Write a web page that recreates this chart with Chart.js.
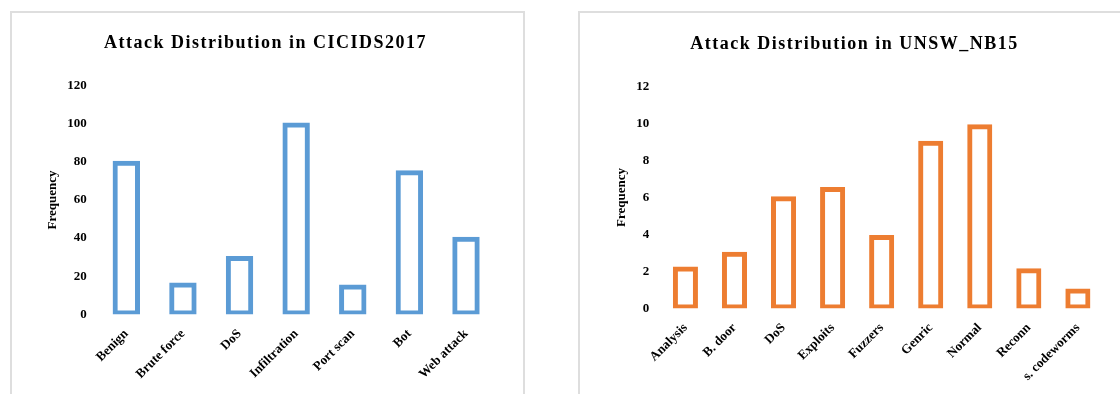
<!DOCTYPE html>
<html lang="en">
<head>
  <meta charset="UTF-8" />
  <title>Attack Distribution</title>
  <style>
    body {
      margin: 0;
      width: 1120px;
      height: 394px;
      overflow: hidden;
      background: #ffffff;
      position: relative;
    }
    .panel {
      position: absolute;
      top: 11px;
      border: 2px solid #dedede;
      background: #ffffff;
    }
    #leftPanel { left: 10px; width: 511px; height: 400px; }
    #rightPanel { left: 578px; width: 548px; height: 400px; }
    canvas { display: block; }
  </style>
</head>
<body>
  <div class="panel" id="leftPanel"><canvas id="cicChart" width="507" height="400"></canvas></div>
  <div class="panel" id="rightPanel"><canvas id="unswChart" width="549" height="400"></canvas></div>

  <script src="https://cdn.jsdelivr.net/npm/chart.js"></script>
  <script>
    // CICIDS2017
    const cicLabels = ["Benign", "Brute force", "DoS", "Infiltration", "Port scan", "Bot", "Web attack"];
    const cicValues = [80, 16, 30, 100, 15, 75, 40];
    const cicTicks = [0, 20, 40, 60, 80, 100, 120];

    // UNSW_NB15
    const unswLabels = ["Analysis", "B. door", "DoS", "Exploits", "Fuzzers", "Genric", "Normal", "Reconn", "s. codeworms"];
    const unswValues = [2.2, 3, 6, 6.5, 3.9, 9, 9.9, 2.1, 1];
    const unswTicks = [0, 2, 4, 6, 8, 10, 12];

    const serif = "'Liberation Serif', 'Times New Roman', serif";

    // spaced-out title only, reset before bars and tick labels
    const titleSpacing = {
      id: "titleSpacing",
      beforeDraw(chart) { chart.ctx.letterSpacing = "1.5px"; },
      beforeDatasetsDraw(chart) { chart.ctx.letterSpacing = "0px"; },
      afterDraw(chart) { chart.ctx.letterSpacing = "0px"; }
    };

    function makeChart(id, title, labels, values, ticks, color, cfg) {
      const ctx = document.getElementById(id).getContext("2d");
      return new Chart(ctx, {
        type: "bar",
        data: {
          labels,
          datasets: [{
            data: values,
            backgroundColor: "rgba(255,255,255,0)",
            borderColor: color,
            borderWidth: 2.5,
            inflateAmount: 1.25,
            borderSkipped: false,
            categoryPercentage: 1,
            barPercentage: cfg.barPct
          }]
        },
        plugins: [titleSpacing],
        options: {
          responsive: false,
          animation: false,
          layout: { padding: { left: 0, right: 0, top: 0, bottom: cfg.padBottom } },
          plugins: {
            legend: { display: false },
            tooltip: { enabled: false },
            title: {
              display: true,
              text: title,
              color: "#000",
              font: { family: serif, size: 18, weight: "bold" },
              padding: { top: cfg.titleTop, bottom: cfg.titleBottom }
            }
          },
          scales: {
            x: {
              grid: { display: false, drawTicks: false, z: 1 },
              border: { display: false },
              ticks: {
                z: 1,
                color: "#000",
                font: { family: serif, size: 13, weight: "bold" },
                maxRotation: 45,
                minRotation: 45,
                autoSkip: false,
                padding: 12
              },
              afterFit(scale) { scale.height = 90; }
            },
            y: {
              min: ticks[0],
              max: ticks[ticks.length - 1],
              afterBuildTicks(scale) { scale.ticks = ticks.map(v => ({ value: v })); },
              grid: { display: false, drawTicks: false, z: 1 },
              border: { display: false },
              ticks: {
                z: 1,
                color: "#000",
                font: { family: serif, size: 13, weight: "bold" },
                padding: cfg.yPad
              },
              title: {
                display: true,
                text: "Frequency",
                color: "#000",
                font: { family: serif, size: 13, weight: "bold" },
                padding: { top: cfg.yTitleTop, bottom: 0 }
              },
              afterFit(scale) { scale.width = cfg.yWidth; }
            },
            // empty right gutter so the title stays centred on the panel
            gutter: {
              type: "linear",
              position: "right",
              grid: { display: false, drawTicks: false },
              border: { display: false },
              ticks: { display: false },
              afterFit(scale) { scale.width = cfg.gutter; }
            }
          }
        }
      });
    }

    makeChart("cicChart", "Attack Distribution in CICIDS2017", cicLabels, cicValues, cicTicks, "#5B9BD5", {
      barPct: 0.44, gutter: 24.7, padBottom: 8.7, titleTop: 19.5, titleBottom: 31.6,
      yPad: 11.3, yWidth: 86, yTitleTop: 33
    });

    makeChart("unswChart", "Attack Distribution in UNSW_NB15", unswLabels, unswValues, unswTicks, "#ED7D31", {
      barPct: 0.46, gutter: 26.6, padBottom: 14.7, titleTop: 20.5, titleBottom: 31.6,
      yPad: 11.6, yWidth: 80.9, yTitleTop: 34
    });
  </script>
</body>
</html>
